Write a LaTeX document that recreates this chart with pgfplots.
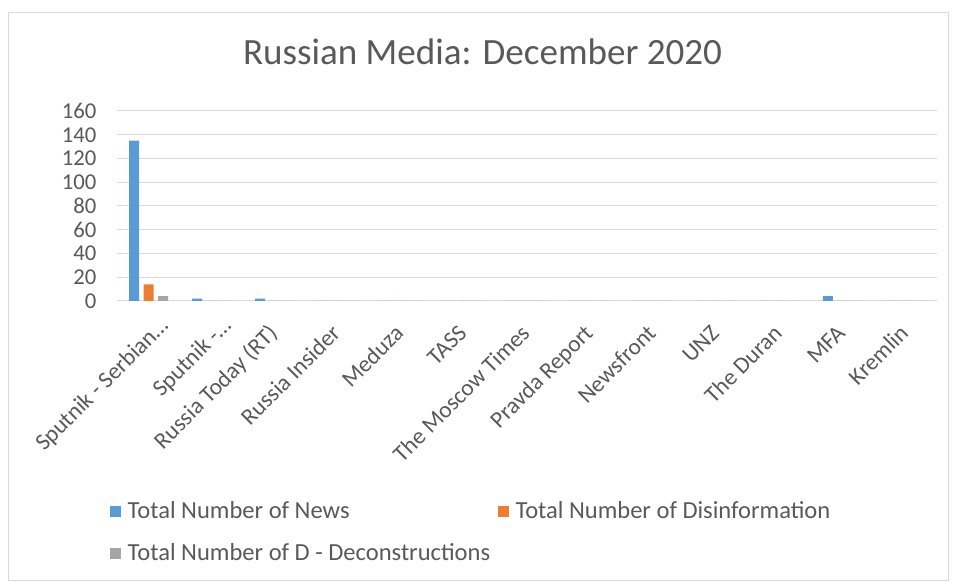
\documentclass[border=0pt]{standalone}
\usepackage{fontspec}
\setmainfont{Carlito}
\usepackage{pgfplots}
\pgfplotsset{compat=1.18}

\definecolor{xlblue}{HTML}{5B9BD5}
\definecolor{xlorange}{HTML}{ED7D31}
\definecolor{xlgray}{HTML}{A5A5A5}
\definecolor{txt}{HTML}{595959}
\definecolor{gridc}{HTML}{D9D9D9}

\begin{document}
\begin{tikzpicture}
	% page frame, 954x582 px at 0.75pt per px
	\path (0pt,0pt) rectangle (715.5pt,436.5pt);
	\draw[gridc] (6pt,1.5pt) rectangle (711pt,427.5pt);
	\node[anchor=base, font=\fontsize{27.8}{30}\selectfont, text=txt]
		at (361.9pt,387.75pt) {Russian Media: December 2020};

	\begin{axis}[
			at={(87.75pt,210.75pt)}, anchor=south west,
			scale only axis,
			width=615pt, height=142.5pt,
			ybar=3.4pt, bar width=7.5pt,
			xmin=-0.5, xmax=12.5,
			ymin=0, ymax=160,
			ytick={0,20,...,160},
			xtick={2,3,...,12},
			xticklabels={Russia Today (RT),
				Russia Insider, Meduza, TASS, The Moscow Times, Pravda Report,
				Newsfront, UNZ, The Duran, MFA, Kremlin},
			% the two truncated names sit a little further right, as in the original
			extra x ticks={0,1},
			extra x tick labels={{Sputnik - Serbian\ldots}, {Sputnik -\ldots}},
			extra x tick style={x tick label style={xshift=12.9pt, yshift=-4.8pt}},
			ymajorgrids, major grid style={gridc, line width=0.75pt},
			axis x line*=bottom,
			x axis line style={gridc, line width=0.75pt, -},
			y axis line style={draw=none},
			major tick length=0pt,
			y tick label style={font=\fontsize{17}{19}\selectfont, text=txt, xshift=-12pt},
			/pgf/number format/assume math mode=true,
			x tick label style={font=\fontsize{17.5}{20}\selectfont, text=txt,
				xshift=-5.5pt, yshift=-16.5pt, rotate=45, anchor=north east, inner sep=0pt,
				text height=12pt, text depth=3.5pt},
			legend columns=2,
			legend cell align=left,
			legend style={at={(axis description cs:-0.0085,-1.052)}, anchor=north west,
				draw=none, fill=none, inner sep=0pt, outer sep=0pt,
				font=\fontsize{18.4}{20}\selectfont, text=txt,
				nodes={inner xsep=5pt, inner ysep=0pt, text height=13pt, text depth=3.5pt},
				row sep=15pt,
				/tikz/every odd column/.append style={column sep=0pt},
				/tikz/every even column/.append style={column sep=0.75pt}},
			legend image code/.code={\fill[#1] (0pt,-4.1pt) rectangle (8.25pt,4.1pt);},
		]
		\addplot[fill=xlblue, draw=none] coordinates {
			(0,135) (1,2) (2,2) (3,0) (4,0) (5,0) (6,0) (7,0) (8,0) (9,0) (10,0) (11,4) (12,0)};
		\addlegendentry{Total Number of News}
		\addplot[fill=xlorange, draw=none] coordinates {
			(0,14) (1,0) (2,0) (3,0) (4,0) (5,0) (6,0) (7,0) (8,0) (9,0) (10,0) (11,0) (12,0)};
		\addlegendentry{Total Number of Disinformation}
		\addplot[fill=xlgray, draw=none] coordinates {
			(0,4) (1,0) (2,0) (3,0) (4,0) (5,0) (6,0) (7,0) (8,0) (9,0) (10,0) (11,0) (12,0)};
		\addlegendentry{Total Number of D - Deconstructions}
	\end{axis}
\end{tikzpicture}
\end{document}
